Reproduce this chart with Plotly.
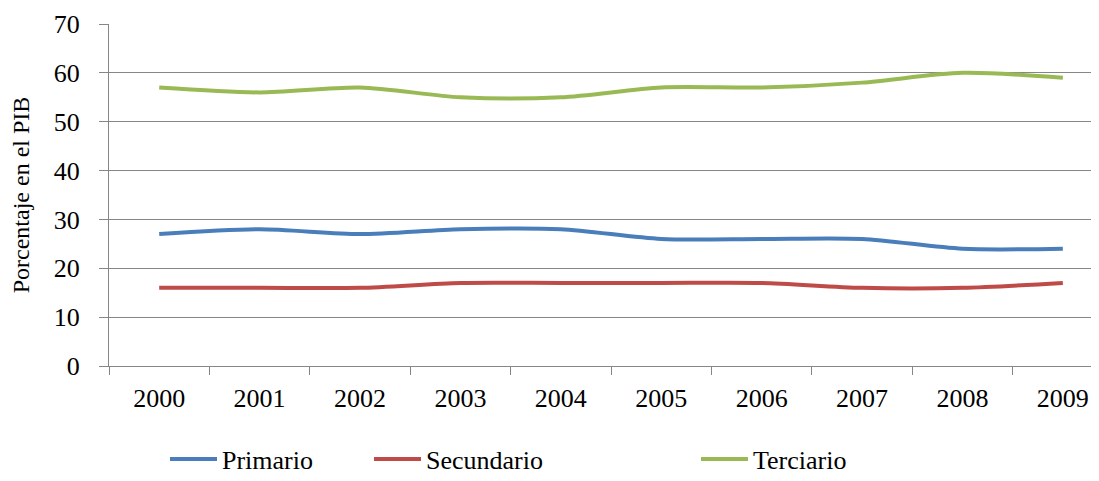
import plotly.graph_objects as go

years = ["2000", "2001", "2002", "2003", "2004", "2005", "2006", "2007", "2008", "2009"]
primario = [27, 28, 27, 28, 28, 26, 26, 26, 24, 24]
secundario = [16, 16, 16, 17, 17, 17, 17, 16, 16, 17]
terciario = [57, 56, 57, 55, 55, 57, 57, 58, 60, 59]

series = [
    ("Primario", primario, "#4A7EBB", "legend"),
    ("Secundario", secundario, "#BE4B48", "legend2"),
    ("Terciario", terciario, "#98B954", "legend3"),
]

fig = go.Figure()
for name, vals, color, leg in series:
    fig.add_trace(go.Scatter(
        x=years, y=vals, mode="lines", name=name, legend=leg,
        line=dict(color=color, width=4, shape="spline", smoothing=0.8),
    ))

font = "'Liberation Serif', 'Times New Roman', 'DejaVu Serif', serif"
grid = "#868686"

# the page body has an 8px margin, so the figure is drawn 8px smaller
W, H = 1091, 473


def legend_at(x):
    return dict(
        orientation="h", xref="container", yref="container",
        x=x / W, xanchor="left", y=22 / H, yanchor="middle",
        font=dict(size=26), bgcolor="rgba(0,0,0,0)", itemwidth=47,
    )


fig.update_layout(
    width=W, height=H,
    margin=dict(l=101, r=0, t=16, b=115),
    paper_bgcolor="white", plot_bgcolor="white",
    font=dict(family=font, size=24, color="black"),
    showlegend=True,
    legend=legend_at(157),
    legend2=legend_at(361),
    legend3=legend_at(688),
    xaxis=dict(
        type="category", range=[-0.5, 9.36], automargin=False,
        tickson="boundaries", ticks="outside", ticklen=8, tickcolor=grid,
        showgrid=False, showline=True, linecolor=grid, linewidth=1,
        tickfont=dict(size=26), ticklabelstandoff=9,
    ),
    yaxis=dict(
        range=[0, 70], dtick=10, ticks="outside", ticklen=9, tickcolor=grid,
        showgrid=True, gridcolor=grid, gridwidth=1, automargin=False,
        showline=True, linecolor=grid, linewidth=1,
        zeroline=False, tickfont=dict(size=26), ticklabelstandoff=14,
        title=dict(text="Porcentaje en el PIB", font=dict(size=24), standoff=20),
    ),
)

fig.write_html("out.html")
